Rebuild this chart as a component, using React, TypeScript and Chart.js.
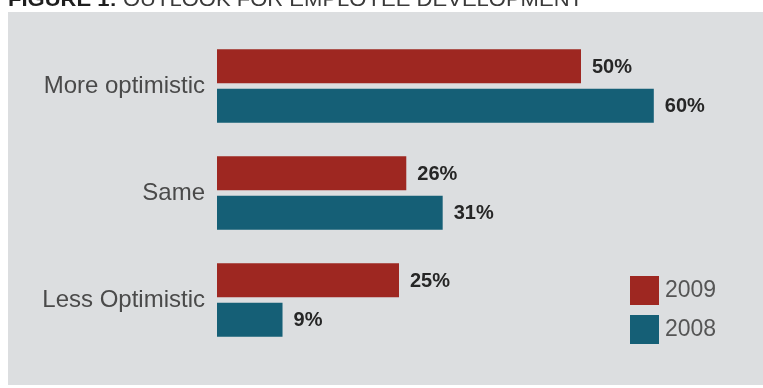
import React, { useEffect, useRef } from "react";
import { Chart, registerables } from "chart.js";

Chart.register(...registerables);

const categories = ["More optimistic", "Same", "Less Optimistic"];
const series2009 = [50, 26, 25];
const series2008 = [60, 31, 9];
const seriesLabels = ["2009", "2008"];
const titleBold = "FIGURE 1:";
const titleRest = " OUTLOOK FOR EMPLOYEE DEVELOPMENT";

const RED = "#9e2721";
const TEAL = "#155f76";
const PANEL = "#dcdee0";

const decorPlugin = {
  id: "decor",
  beforeDraw(chart: any) {
    const ctx = chart.ctx;
    ctx.save();
    ctx.fillStyle = "#ffffff";
    ctx.fillRect(0, 0, chart.width, chart.height);
    ctx.fillStyle = PANEL;
    ctx.fillRect(8, 12, chart.width - 8, 373);
    ctx.textBaseline = "alphabetic";
    ctx.font = "bold 21px 'Liberation Sans Narrow', 'Liberation Sans', Arial, sans-serif";
    const w1 = ctx.measureText(titleBold).width;
    ctx.font = "21px 'Liberation Sans Narrow', 'Liberation Sans', Arial, sans-serif";
    const w2 = ctx.measureText(titleRest).width;
    const target = 575;
    const sx = target / (w1 + w2);
    ctx.translate(8, 6);
    ctx.scale(sx, 1);
    ctx.font = "bold 21px 'Liberation Sans Narrow', 'Liberation Sans', Arial, sans-serif";
    ctx.fillStyle = "#1e1e1e";
    ctx.fillText(titleBold, 0, 0);
    ctx.font = "21px 'Liberation Sans Narrow', 'Liberation Sans', Arial, sans-serif";
    ctx.fillStyle = "#3a3a3a";
    ctx.fillText(titleRest, w1, 0);
    ctx.restore();
  },
  afterDatasetsDraw(chart: any) {
    const ctx = chart.ctx;
    ctx.save();
    ctx.font = "bold 20px 'Liberation Sans', Arial, sans-serif";
    ctx.fillStyle = "#262626";
    ctx.textBaseline = "middle";
    ctx.textAlign = "left";
    chart.data.datasets.forEach((ds: any, di: number) => {
      const meta = chart.getDatasetMeta(di);
      meta.data.forEach((bar: any, i: number) => {
        ctx.fillText(ds.data[i] + "%", bar.x + 11, bar.y + 1);
      });
    });
    ctx.font = "23px 'Liberation Sans', Arial, sans-serif";
    const lx = 630;
    const ly = [276, 315];
    chart.data.datasets.forEach((ds: any, di: number) => {
      ctx.fillStyle = ds.backgroundColor;
      ctx.fillRect(lx, ly[di], 29, 29);
      ctx.fillStyle = "#555555";
      ctx.fillText(ds.label, lx + 35, ly[di] + 15);
    });
    ctx.restore();
  },
};

export default function App() {
  const ref = useRef<HTMLCanvasElement | null>(null);
  useEffect(() => {
    if (!ref.current) return;
    const chart = new Chart(ref.current, {
      type: "bar",
      data: {
        labels: categories,
        datasets: [
          { label: seriesLabels[0], data: series2009, backgroundColor: RED },
          { label: seriesLabels[1], data: series2008, backgroundColor: TEAL },
        ],
      },
      options: {
        indexAxis: "y",
        responsive: false,
        animation: false,
        events: [],
        layout: { padding: { top: 32.5, bottom: 34.5, left: 0, right: 36.4 } },
        datasets: {
          bar: { categoryPercentage: 0.738, barPercentage: 0.86 },
        },
        plugins: {
          legend: { display: false },
          tooltip: { enabled: false },
          title: { display: false },
        },
        scales: {
          x: {
            display: false,
            min: 0,
            max: 70,
          },
          y: {
            afterFit: (scale: any) => {
              scale.width = 217;
            },
            grid: { display: false, drawTicks: false },
            border: { display: false },
            ticks: {
              padding: 12,
              color: "#4a4a4a",
              font: { family: "'Liberation Sans', Arial, sans-serif", size: 24 },
            },
          },
        },
      },
      plugins: [decorPlugin],
    });
    return () => chart.destroy();
  }, []);
  return (
    <div style={{ position: "fixed", left: 0, top: 0, width: 763, height: 388 }}>
      <canvas ref={ref} width={763} height={388} style={{ display: "block" }} />
    </div>
  );
}
